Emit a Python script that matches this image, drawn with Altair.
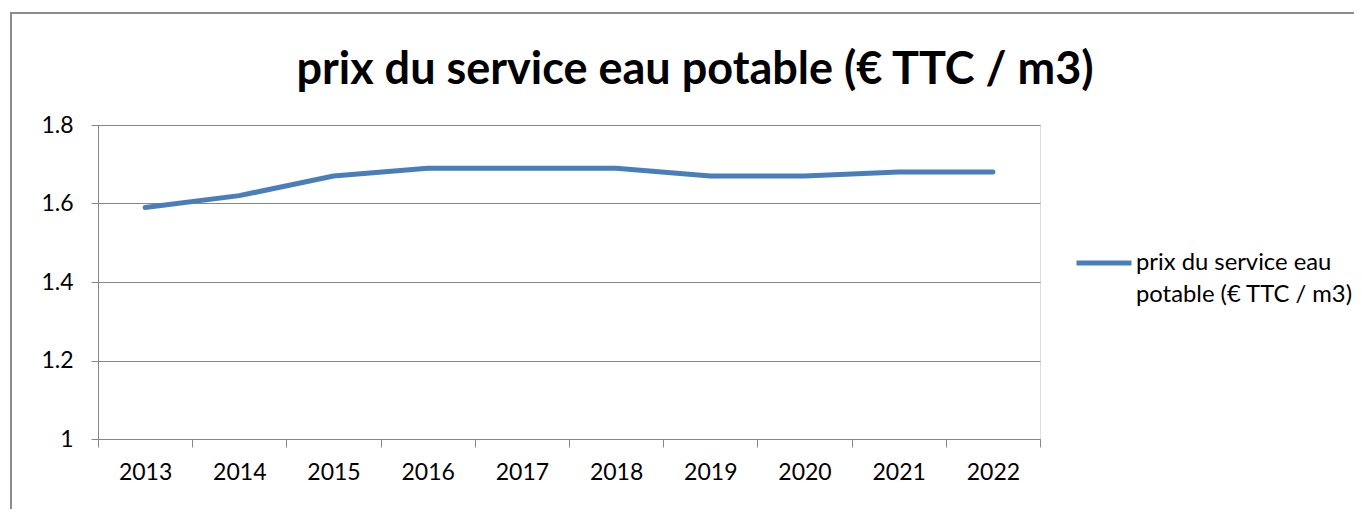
import altair as alt
import pandas as pd

years = ["2013", "2014", "2015", "2016", "2017", "2018", "2019", "2020", "2021", "2022"]
prix = [1.59, 1.62, 1.67, 1.69, 1.69, 1.69, 1.67, 1.67, 1.68, 1.68]
serie = "prix du service eau potable (€ TTC / m3)"
y_ticks = [1, 1.2, 1.4, 1.6, 1.8]

df = pd.DataFrame({"annee": years, "prix": prix, "serie": [serie] * len(years)})

FONT = "Lato"
GRAY = "#878787"

line = alt.Chart(df).mark_line(strokeWidth=5, strokeCap="round").encode(
    x=alt.X(
        "annee:N",
        bandPosition=0.5,
        scale=alt.Scale(type="band", paddingInner=0, paddingOuter=0),
        axis=alt.Axis(
            title=None, labelAngle=0, tickBand="extent", grid=False,
            domainColor=GRAY, tickColor=GRAY, tickSize=8, labelPadding=14,
            labelFont=FONT, labelFontSize=23, labelColor="black",
        ),
    ),
    y=alt.Y(
        "prix:Q",
        scale=alt.Scale(domain=[1, 1.8], nice=False, zero=False),
        axis=alt.Axis(
            title=None, values=y_ticks, format="~g", grid=True, gridColor=GRAY,
            domainColor=GRAY, tickColor=GRAY, tickSize=7, labelPadding=18,
            labelFont=FONT, labelFontSize=23, labelColor="black",
        ),
    ),
    color=alt.Color(
        "serie:N",
        scale=alt.Scale(domain=[serie], range=["#4A7EBB"]),
        legend=alt.Legend(
            title=None, orient="none", legendX=976, legendY=108,
            symbolType="stroke", symbolSize=3025, symbolStrokeWidth=5,
            symbolStrokeColor="#4A7EBB",
            labelOffset=2, padding=0,
            labelExpr="['prix du service eau', 'potable (€ TTC / m3)']",
            labelFont=FONT, labelFontSize=23.8, labelColor="black", labelLimit=400,
        ),
    ),
)

border = alt.Chart(pd.DataFrame({"k": [0]})).mark_rect(
    fill=None, stroke="#8c8c8c", strokeWidth=2
).encode(
    x=alt.value(-87), x2=alt.value(1300), y=alt.value(-112), y2=alt.value(420)
)

chart = alt.layer(border, line).properties(
    width=942,
    height=314,
    autosize=alt.AutoSizeParams(type="none"),
    padding={"left": 90, "top": 117, "right": 314, "bottom": 70},
    title=alt.TitleParams(
        serie, font=FONT, fontSize=45, fontWeight="bold", color="black",
        anchor="middle", dx=126, offset=0, baseline="alphabetic", dy=117,
    ),
).configure_view(strokeWidth=0).configure(
    style={"guide-label": {"lineHeight": 32}}
)

chart.save("out.html", embed_options={"renderer": "svg", "actions": False})
